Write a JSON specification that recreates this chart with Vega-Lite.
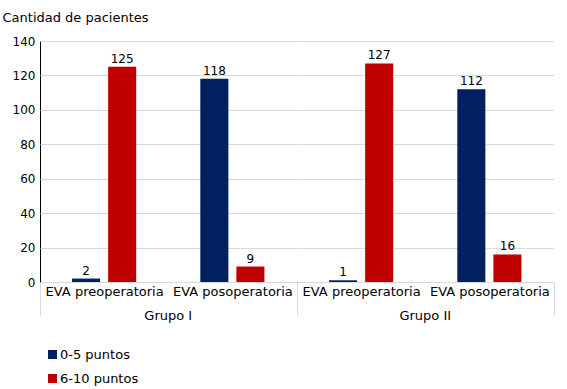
{
  "$schema": "https://vega.github.io/schema/vega-lite/v6.json",
  "padding": {"left": 2, "top": 11, "right": 5, "bottom": 5},
  "data": {
    "values": [
      {"grupo": "Grupo I", "eva": "EVA preoperatoria", "serie": "0-5 puntos", "valor": 2},
      {"grupo": "Grupo I", "eva": "EVA preoperatoria", "serie": "6-10 puntos", "valor": 125},
      {"grupo": "Grupo I", "eva": "EVA posoperatoria", "serie": "0-5 puntos", "valor": 118},
      {"grupo": "Grupo I", "eva": "EVA posoperatoria", "serie": "6-10 puntos", "valor": 9},
      {"grupo": "Grupo II", "eva": "EVA preoperatoria", "serie": "0-5 puntos", "valor": 1},
      {"grupo": "Grupo II", "eva": "EVA preoperatoria", "serie": "6-10 puntos", "valor": 127},
      {"grupo": "Grupo II", "eva": "EVA posoperatoria", "serie": "0-5 puntos", "valor": 112},
      {"grupo": "Grupo II", "eva": "EVA posoperatoria", "serie": "6-10 puntos", "valor": 16}
    ]
  },
  "facet": {
    "column": {
      "field": "grupo", "type": "nominal", "sort": ["Grupo I", "Grupo II"], "title": null,
      "header": {"labelOrient": "bottom", "labelFont": "DejaVu Sans", "labelFontSize": 13, "labelColor": "black", "labelPadding": -6}
    }
  },
  "spacing": 0,
  "spec": {
    "width": 256.5,
    "height": 241,
    "encoding": {
      "x": {
        "field": "eva", "type": "nominal", "sort": ["EVA preoperatoria", "EVA posoperatoria"],
        "scale": {"paddingInner": 0, "paddingOuter": 0},
        "axis": {
          "title": null, "labelAngle": 0, "labelFont": "DejaVu Sans", "labelFontSize": 13, "labelColor": "black",
          "domainColor": "black", "tickBand": "extent", "tickSize": 33,
          "tickColor": {"condition": {"test": "datum.index === 0", "value": "transparent"}, "value": "#d9d9d9"},
          "labelPadding": -30
        }
      },
      "xOffset": {"field": "serie", "type": "nominal", "scale": {"paddingInner": 0.222, "paddingOuter": 0.889}},
      "y": {
        "field": "valor", "type": "quantitative",
        "scale": {"domain": [0, 140]},
        "axis": {
          "values": [0, 20, 40, 60, 80, 100, 120, 140],
          "title": "Cantidad de pacientes", "titleAngle": 0, "titleAlign": "left", "titleBaseline": "alphabetic",
          "titleX": -38, "titleY": -20, "titleFont": "DejaVu Sans", "titleFontSize": 13, "titleFontWeight": "normal", "titleColor": "black",
          "labelFont": "DejaVu Sans", "labelFontSize": 12, "labelColor": "black", "labelPadding": 5,
          "ticks": false, "domainColor": "black", "gridColor": "#d9d9d9"
        }
      },
      "color": {
        "field": "serie", "type": "nominal",
        "scale": {"domain": ["0-5 puntos", "6-10 puntos"], "range": ["#002060", "#c00000"]},
        "legend": {
          "title": null, "orient": "none", "legendX": 6, "legendY": 307, "direction": "vertical",
          "symbolType": "square", "symbolSize": 81, "symbolStrokeWidth": 0, "symbolOpacity": 1,
          "labelFont": "DejaVu Sans", "labelFontSize": 13, "labelColor": "black", "labelOffset": 1, "rowPadding": 10
        }
      }
    },
    "layer": [
      {"mark": {"type": "bar"}},
      {
        "mark": {"type": "text", "baseline": "alphabetic", "dy": -4, "font": "DejaVu Sans", "fontSize": 12, "color": "black"},
        "encoding": {"text": {"field": "valor", "type": "quantitative"}, "color": {"value": "black"}}
      }
    ]
  },
  "config": {"view": {"stroke": null}, "font": "DejaVu Sans"}
}
